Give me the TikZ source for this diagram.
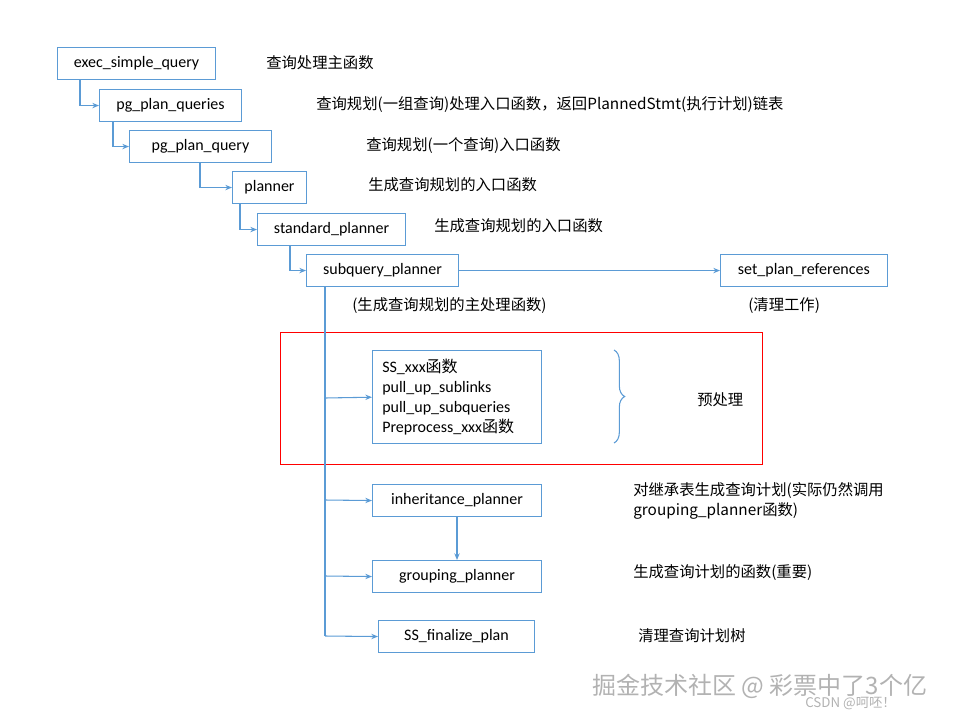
\documentclass[tikz,border=0pt]{standalone}
\usepackage{fontspec}
\setmainfont{Carlito}
\newfontfamily\cjk{Noto Sans CJK SC}
\usetikzlibrary{arrows.meta,decorations.pathreplacing}
\definecolor{bl}{HTML}{5B9BD5}
\tikzset{
 box/.style={draw=bl,line width=0.8pt,anchor=north west,font=\fontsize{12}{14}\selectfont,inner sep=0pt},
 lab/.style={anchor=west,font=\cjk\fontsize{11.5}{15}\selectfont,inner sep=0pt,align=left},
 con/.style={draw=bl,line width=0.8pt,-{Stealth[length=5pt,width=4pt]}},
 ln/.style={draw=bl,line width=0.8pt}
}
\begin{document}
\begin{tikzpicture}[x=0.75pt,y=-0.75pt]
\useasboundingbox (0,0) rectangle (963,718);
\newcommand\bx[6]{\node[box,minimum width=#4*0.75pt-#2*0.75pt,minimum height=#5*0.75pt-#3*0.75pt] (#1) at (#2,#3) {};\node at ($(#1.center)$) {};}
\node[box,minimum width=118.5pt,minimum height=24pt] (a) at (57,47) {};
\node[font=\fontsize{12}{14}\selectfont] at (a.center) {exec\_simple\_query};
\node[box,minimum width=106.5pt,minimum height=24pt] (b) at (99,89) {};
\node[font=\fontsize{12}{14}\selectfont] at (b.center) {pg\_plan\_queries};
\node[box,minimum width=106.5pt,minimum height=24pt] (c) at (129,130) {};
\node[font=\fontsize{12}{14}\selectfont] at (c.center) {pg\_plan\_query};
\node[box,minimum width=55.5pt,minimum height=24pt] (d) at (232,171) {};
\node[font=\fontsize{12}{14}\selectfont] at (d.center) {planner};
\node[box,minimum width=111pt,minimum height=24pt] (e) at (257,213) {};
\node[font=\fontsize{12}{14}\selectfont] at (e.center) {standard\_planner};
\node[box,minimum width=114pt,minimum height=24pt] (f) at (306,254) {};
\node[font=\fontsize{12}{14}\selectfont] at (f.center) {subquery\_planner};
\node[box,minimum width=125pt,minimum height=24pt] (g) at (720,254) {};
\node[font=\fontsize{12}{14}\selectfont] at (g.center) {set\_plan\_references};
\node[box,minimum width=126.75pt,minimum height=70pt] (h) at (372,350) {};
\node[anchor=west,align=left,font=\fontsize{12}{15}\selectfont,inner sep=0pt] at ([xshift=7.5pt]h.west) {SS\_xxx{\cjk 函数}\\pull\_up\_sublinks\\pull\_up\_subqueries\\Preprocess\_xxx{\cjk 函数}};
\node[box,minimum width=126.75pt,minimum height=24pt] (i) at (372,484) {};
\node[font=\fontsize{12}{14}\selectfont] at (i.center) {inheritance\_planner};
\node[box,minimum width=126.75pt,minimum height=24pt] (j) at (372,560) {};
\node[font=\fontsize{12}{14}\selectfont] at (j.center) {grouping\_planner};
\node[box,minimum width=117pt,minimum height=24pt] (k) at (378,620) {};
\node[font=\fontsize{12}{14}\selectfont] at (k.center) {SS\_finalize\_plan};
\node[draw=red,line width=1pt,anchor=north west,minimum width=361.5pt,minimum height=99pt,inner sep=0pt] (r) at (280,332) {};
% connectors
\draw[con] (80,79) |- (b.west);
\draw[con] (113,121) |- (c.west);
\draw[con] (200,162) |- (d.west);
\draw[con] (240,203) |- (e.west);
\draw[con] (290,245) |- (f.west);
\draw[con] (f.east) -- (g.west);
\coordinate (t) at (325,286);
\draw[ln] (t) -- (325,636);
\draw[con] (325,398) -- (h.west);
\draw[con] (325,500) -- (i.west);
\draw[con] (325,576) -- (j.west);
\draw[con] (325,636) -- (k.west);
\draw[con] (457,516) -- (457,560);
\draw[ln,decorate,decoration={brace,amplitude=8pt}] (614,350) -- (614,443);
% labels
\node[lab] at (266,63) {查询处理主函数};
\node[lab] at (316,105) {查询规划(一组查询)处理入口函数，返回PlannedStmt(执行计划)链表};
\node[lab] at (366,146) {查询规划(一个查询)入口函数};
\node[lab] at (368,185) {生成查询规划的入口函数};
\node[lab] at (434,226) {生成查询规划的入口函数};
\node[lab] at (352,306) {(生成查询规划的主处理函数)};
\node[lab] at (748,306) {(清理工作)};
\node[lab] at (697,400) {预处理};
\node[lab,anchor=north west] at (633,482) {对继承表生成查询计划(实际仍然调用\\grouping\_planner函数)};
\node[lab] at (633,573) {生成查询计划的函数(重要)};
\node[lab] at (638,636) {清理查询计划树};
\node[lab,font=\cjk\fontsize{18}{20}\selectfont,text=gray!60] at (592,686) {掘金技术社区 @ 彩票中了3个亿};
\node[lab,font=\cjk\fontsize{10}{12}\selectfont,text=gray!60] at (805,703) {CSDN @呵呸！};
\end{tikzpicture}
\end{document}
